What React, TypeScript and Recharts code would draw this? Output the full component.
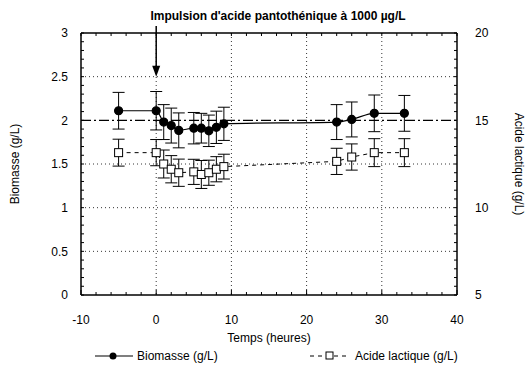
import React from 'react';
import {
  ComposedChart,
  Line,
  XAxis,
  YAxis,
  CartesianGrid,
  ReferenceLine,
  ReferenceDot,
  ErrorBar,
  Legend,
} from 'recharts';

// hours after/before the pulse
const times = [-5, 0, 1, 2, 3, 5, 6, 7, 8, 9, 24, 26, 29, 33];
// biomass, g/L (left axis)
const biomass = [2.11, 2.11, 1.98, 1.94, 1.885, 1.91, 1.91, 1.88, 1.92, 1.96, 1.98, 2.01, 2.08, 2.08];
const biomassErr = [0.21, 0.22, 0.2, 0.2, 0.2, 0.18, 0.17, 0.18, 0.185, 0.19, 0.2, 0.2, 0.21, 0.205];
// lactic acid, g/L (right axis)
const lactic = [13.15, 13.15, 12.5, 12.2, 12.0, 12.05, 11.9, 12.0, 12.2, 12.35, 12.65, 12.9, 13.15, 13.15];
const lacticErr = [0.77, 0.75, 0.8, 0.78, 0.78, 0.72, 0.8, 0.72, 0.72, 0.71, 0.75, 0.75, 0.8, 0.8];

// labelled ticks
const xLabels = [-10, 0, 10, 20, 30, 40];
const yLabels = [0, 0.5, 1, 1.5, 2, 2.5, 3];
const y2Labels = [5, 10, 15, 20];
// small inward tick marks along the frame
const xMinor = [-10, -8, -6, -4, -2, 0, 2, 4, 6, 8, 10, 12, 14, 16, 18, 20, 22, 24, 26, 28, 30, 32, 34, 36, 38, 40];
const yMinor = [0, 0.1, 0.2, 0.3, 0.4, 0.5, 0.6, 0.7, 0.8, 0.9, 1, 1.1, 1.2, 1.3, 1.4, 1.5, 1.6, 1.7, 1.8, 1.9, 2, 2.1, 2.2, 2.3, 2.4, 2.5, 2.6, 2.7, 2.8, 2.9, 3];
const y2Minor = [5, 5.5, 6, 6.5, 7, 7.5, 8, 8.5, 9, 9.5, 10, 10.5, 11, 11.5, 12, 12.5, 13, 13.5, 14, 14.5, 15, 15.5, 16, 16.5, 17, 17.5, 18, 18.5, 19, 19.5, 20];
const gridX = [0, 10, 20, 30];
const gridY = [0.5, 1, 1.5, 2.5];

const data = times.map((t, i) => ({
  t,
  bio: biomass[i],
  bioErr: biomassErr[i],
  lac: lactic[i],
  lacErr: lacticErr[i],
}));

const font = 'Liberation Sans, Arial, sans-serif';
const tickStyle = { fontSize: 12, fill: '#000', fontFamily: font };

// tick mark drawn from a point on the frame, pointing inside the plot
const tickMark = (dx: number, dy: number) => (p: any) => {
  if (p.cx == null || p.cy == null) return <g />;
  return <line x1={p.cx} y1={p.cy} x2={p.cx + dx} y2={p.cy + dy} stroke="#000" strokeWidth={1} />;
};

const Square = (p: any) => {
  if (p.cx == null || p.cy == null) return null;
  return (
    <rect key={p.index} x={p.cx - 4} y={p.cy - 4} width={8} height={8} fill="#fff" stroke="#000" strokeWidth={1} />
  );
};

const Arrow = (p: any) => {
  const { x1, y1, x2, y2 } = p;
  return (
    <g>
      <line x1={x1} y1={y1} x2={x2} y2={y2 - 9} stroke="#000" strokeWidth={1.5} />
      <polygon points={`${x2 - 4},${y2 - 11} ${x2 + 4},${y2 - 11} ${x2},${y2}`} fill="#000" />
    </g>
  );
};

const LegendBox = () => (
  <div style={{ position: 'relative', height: 22 }}>
    <svg width={528} height={22} style={{ position: 'absolute', left: 0, top: 0 }}>
      <line x1={95} y1={11} x2={133} y2={11} stroke="#000" strokeWidth={1.2} />
      <circle cx={113} cy={11} r={3.5} fill="#000" />
      <text x={137} y={15} style={tickStyle}>Biomasse (g/L)</text>
      <line x1={310} y1={11} x2={350} y2={11} stroke="#000" strokeWidth={1} strokeDasharray="4 4" />
      <rect x={326} y={7} width={7} height={7} fill="#fff" stroke="#000" />
      <text x={355} y={15} style={tickStyle}>Acide lactique (g/L)</text>
    </svg>
  </div>
);

const frame = { stroke: '#000', strokeWidth: 1.5 };

export default function App() {
  return (
    <div style={{ position: 'absolute', left: 0, top: 0, background: '#fff' }}>
      <ComposedChart
        width={528}
        height={367}
        data={data}
        margin={{ top: 33, right: 0, bottom: 0, left: 0 }}
      >
        <CartesianGrid
          yAxisId="left"
          stroke="#000"
          strokeDasharray="1 3"
          strokeWidth={0.8}
          verticalValues={gridX}
          horizontalValues={gridY}
        />
        <XAxis
          dataKey="t"
          type="number"
          domain={[-10, 40]}
          ticks={xLabels}
          interval={0}
          tickLine={false}
          tickMargin={14}
          height={50}
          axisLine={frame}
          tick={tickStyle}
          label={{ value: 'Temps (heures)', position: 'insideBottom', offset: 3, style: { ...tickStyle } }}
        />
        <YAxis
          yAxisId="left"
          type="number"
          domain={[0, 3]}
          ticks={yLabels}
          interval={0}
          width={81}
          tickLine={false}
          tickMargin={7}
          axisLine={frame}
          tick={tickStyle}
          label={{
            value: 'Biomasse (g/L)',
            angle: -90,
            position: 'insideLeft',
            offset: 15,
            style: { ...tickStyle, textAnchor: 'middle' },
          }}
        />
        <YAxis
          yAxisId="right"
          orientation="right"
          type="number"
          domain={[5, 20]}
          ticks={y2Labels}
          interval={0}
          width={71}
          tickLine={false}
          tickMargin={12}
          axisLine={frame}
          tick={tickStyle}
          label={{
            value: 'Acide lactique (g/L)',
            angle: 90,
            position: 'insideRight',
            offset: 9,
            style: { ...tickStyle, textAnchor: 'middle' },
          }}
        />
        <ReferenceLine
          yAxisId="left"
          y={3}
          stroke="#000"
          strokeWidth={1.5}
          label={{
            value: "Impulsion d'acide pantothénique à 1000 µg/L",
            position: 'top',
            offset: 13,
            dx: 9,
            style: { ...tickStyle, fontWeight: 'bold' },
          }}
        />
        <ReferenceLine yAxisId="left" y={2} stroke="#000" strokeWidth={1.2} strokeDasharray="10 3 2 3" />
        {xMinor.map((v) => (
          <ReferenceDot
            key={`b${v}`}
            yAxisId="left"
            x={v}
            y={0}
            ifOverflow="visible"
            shape={tickMark(0, v % 10 === 0 ? -5 : -3)}
          />
        ))}
        {xMinor.map((v) => (
          <ReferenceDot key={`t${v}`} yAxisId="left" x={v} y={3} ifOverflow="visible" shape={tickMark(0, 3)} />
        ))}
        {yMinor.map((v) => (
          <ReferenceDot key={`l${v}`} yAxisId="left" x={-10} y={v} ifOverflow="visible" shape={tickMark(3, 0)} />
        ))}
        {y2Minor.map((v) => (
          <ReferenceDot key={`r${v}`} yAxisId="right" x={40} y={v} ifOverflow="visible" shape={tickMark(-3, 0)} />
        ))}
        <ReferenceLine
          yAxisId="left"
          segment={[{ x: 0, y: 3.08 }, { x: 0, y: 2.5 }]}
          ifOverflow="visible"
          shape={Arrow}
        />
        <Line
          yAxisId="left"
          dataKey="bio"
          type="monotone"
          stroke="#000"
          strokeWidth={1.2}
          dot={{ r: 4, fill: '#000', stroke: '#000' }}
          isAnimationActive={false}
        >
          <ErrorBar dataKey="bioErr" direction="y" width={6} stroke="#000" strokeWidth={1} />
        </Line>
        <Line
          yAxisId="right"
          dataKey="lac"
          type="linear"
          stroke="#000"
          strokeWidth={1}
          strokeDasharray="4 4"
          dot={Square}
          isAnimationActive={false}
        >
          <ErrorBar dataKey="lacErr" direction="y" width={6} stroke="#000" strokeWidth={1} />
        </Line>
        <Legend verticalAlign="bottom" height={22} content={() => <LegendBox />} />
      </ComposedChart>
    </div>
  );
}
